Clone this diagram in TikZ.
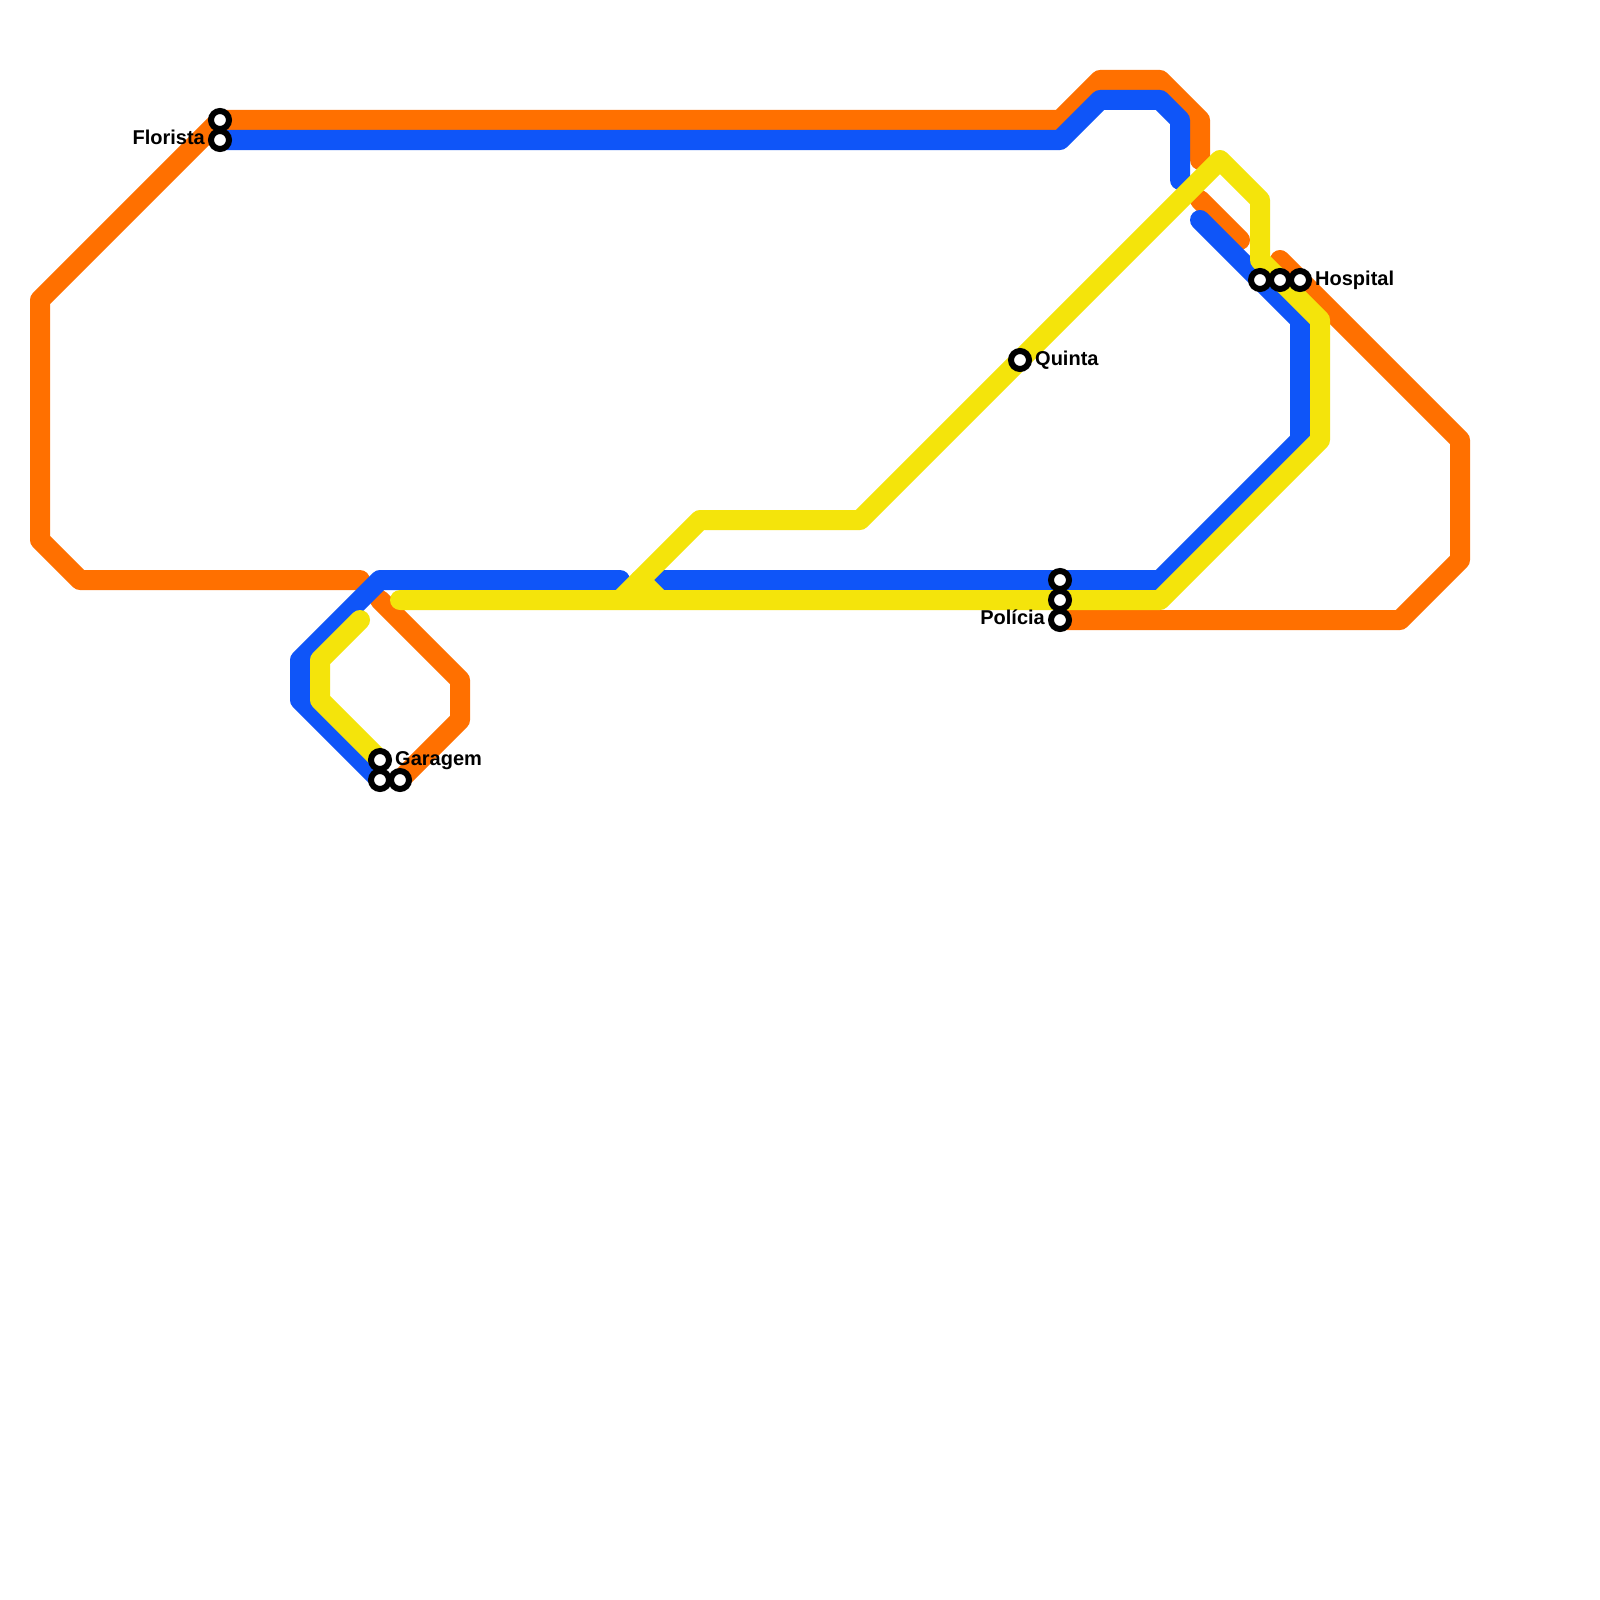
\documentclass[tikz,border=0pt]{standalone}
\usepackage{fontspec}
\setmainfont{Liberation Sans}
\usetikzlibrary{backgrounds}
\definecolor{lineorange}{HTML}{FF7000}
\definecolor{lineblue}{HTML}{0F55F8}
\definecolor{lineyellow}{HTML}{F4E40B}
\tikzset{
  route/.style={line width=20pt,line join=round,line cap=round},
  orangeroute/.style={route,draw=lineorange},
  blueroute/.style={route,draw=lineblue},
  yellowroute/.style={route,draw=lineyellow},
  stop/.style={circle,draw=black,fill=white,line width=6pt,minimum size=18pt,inner sep=0pt},
  stoplabel/.style={inner sep=0pt,font=\bfseries\fontsize{20}{20}\selectfont},
}
\begin{document}
\begin{tikzpicture}[x=1pt,y=-1pt]
% stations
\node[stop] (fa) at (220,120) {};
\node[stop] (fb) at (220,140) {};
\node[stop] (ga) at (380,760) {};
\node[stop] (gb) at (380,780) {};
\node[stop] (gc) at (400,780) {};
\node[stop] (pa) at (1060,580) {};
\node[stop] (pb) at (1060,600) {};
\node[stop] (pc) at (1060,620) {};
\node[stop] (q)  at (1020,360) {};
\node[stop] (ha) at (1260,280) {};
\node[stop] (hb) at (1280,280) {};
\node[stop] (hc) at (1300,280) {};
% labels
\node[stoplabel,anchor=base east] (lf) at (205,144) {Florista};
\node[stoplabel,anchor=base west] (lg) at (395,765) {Garagem};
\node[stoplabel,anchor=base east] (lp) at (1045,624) {Polícia};
\node[stoplabel,anchor=base west] (lq) at (1035,365) {Quinta};
\node[stoplabel,anchor=base west] (lh) at (1315,285) {Hospital};
% free ends of the broken runs
\coordinate (oa) at (360,580);
\coordinate (ob) at (380,600);
\coordinate (oc) at (1200,160);
\coordinate (od) at (1200,200);
\coordinate (oe) at (1240,240);
\coordinate (of) at (1280,260);
\coordinate (ba) at (620,580);
\coordinate (bb) at (660,580);
\coordinate (bc) at (1180,180);
\coordinate (bd) at (1200,220);
\coordinate (ya) at (400,600);
\coordinate (yb) at (360,620);
\coordinate (yc) at (620,600);
\coordinate (yd) at (640,580);
\coordinate (ye) at (660,600);
\begin{scope}[on background layer]
\path[use as bounding box,fill=white] (0,0) rectangle (1600,1600);
% orange
\draw[orangeroute] (fa.center) -- (1060,120) -- (1100,80) -- (1160,80) -- (1200,120) -- (oc);
\draw[orangeroute] (od) -- (oe);
\draw[orangeroute] (of) -- (1460,440) -- (1460,560) -- (1400,620) -- (pc.center);
\draw[orangeroute] (fa.center) -- (40,300) -- (40,540) -- (80,580) -- (oa);
\draw[orangeroute] (ob) -- (460,680) -- (460,720) -- (gc.center);
% blue
\draw[blueroute] (fb.center) -- (1060,140) -- (1100,100) -- (1160,100) -- (1180,120) -- (bc);
\draw[blueroute] (bd) -- (1300,320) -- (1300,440) -- (1160,580) -- (bb);
\draw[blueroute] (ba) -- (380,580) -- (300,660) -- (300,700) -- (gb.center);
% yellow
\draw[yellowroute] (ya) -- (1160,600) -- (1320,440) -- (1320,320) -- (1260,260) -- (1260,200) -- (1220,160) -- (860,520) -- (700,520) -- (yc);
\draw[yellowroute] (yd) -- (ye);
\draw[yellowroute] (yb) -- (320,660) -- (320,700) -- (ga.center);
\end{scope}
\end{tikzpicture}
\end{document}
